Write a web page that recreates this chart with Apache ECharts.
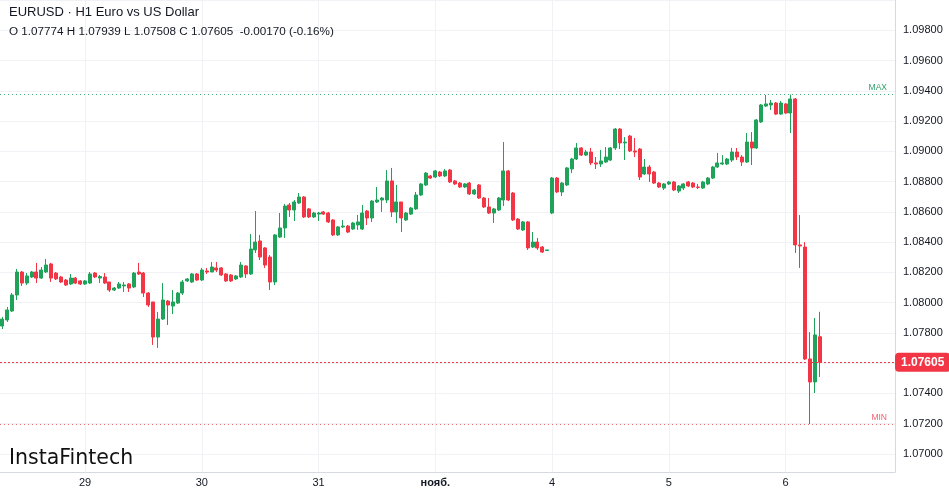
<!DOCTYPE html>
<html>
<head>
<meta charset="utf-8">
<script src="https://cdn.jsdelivr.net/npm/echarts@6/dist/echarts.min.js"></script>
<style>
html,body{margin:0;padding:0;background:#fff;}
#chart{width:949px;height:494px;}
</style>
</head>
<body>
<div id="chart"></div>
<script>
// ---- Data (EURUSD H1) ----
const dayNames = ['28', '29', '30', '31', 'нояб.', '4', '5', '6', '7'];
const firstHour = 7;
const slotCount = 184;

const openP = [
1.07845,1.07885,1.07944,1.08050,1.08202,1.08129,1.08169,1.08202,1.08162,1.08202,
1.08255,1.08195,1.08169,1.08149,1.08123,1.08162,1.08143,1.08123,1.08129,1.08195,
1.08162,1.08169,1.08136,1.08083,1.08096,1.08110,1.08123,1.08103,1.08202,1.08195,
1.08063,1.08004,1.07772,1.07891,1.08010,1.07977,1.07997,1.08063,1.08143,1.08136,
1.08189,1.08149,1.08209,1.08202,1.08229,1.08229,1.08189,1.08182,1.08156,1.08169,
1.08242,1.08189,1.08348,1.08407,1.08361,1.08301,1.08136,1.08433,1.08493,1.08645,
1.08612,1.08658,1.08698,1.08619,1.08566,1.08585,1.08599,1.08592,1.08546,1.08447,
1.08500,1.08506,1.08486,1.08513,1.08486,1.08605,1.08559,1.08665,1.08678,1.08678,
1.08804,1.08599,1.08665,1.08546,1.08585,1.08619,1.08711,1.08777,1.08837,1.08830,
1.08863,1.08837,1.08876,1.08804,1.08790,1.08764,1.08790,1.08718,1.08777,1.08691,
1.08632,1.08592,1.08612,1.08678,1.08870,1.08724,1.08552,1.08480,1.08533,1.08367,
1.08400,1.08367,1.08344,1.08592,1.08823,1.08731,1.08777,1.08883,1.08949,1.09022,
1.08975,1.08995,1.08923,1.08916,1.08929,1.08942,1.09022,1.09147,1.09055,1.09101,
1.09002,1.09015,1.08850,1.08896,1.08863,1.08790,1.08757,1.08784,1.08797,1.08737,
1.08757,1.08797,1.08790,1.08764,1.08757,1.08784,1.08823,1.08896,1.08916,1.08916,
1.08942,1.08995,1.08962,1.08929,1.09061,1.09022,1.09194,1.09299,1.09306,1.09319,
1.09246,1.09313,1.09253,1.09346,1.08381,1.08367,1.07627,1.07475,1.07774
];
const closeP = [
1.07891,1.07951,1.08050,1.08202,1.08129,1.08176,1.08202,1.08162,1.08215,1.08248,
1.08162,1.08156,1.08136,1.08116,1.08162,1.08129,1.08123,1.08143,1.08189,1.08169,
1.08172,1.08129,1.08083,1.08096,1.08123,1.08116,1.08096,1.08195,1.08189,1.08063,
1.07984,1.07772,1.07891,1.08017,1.07984,1.08004,1.08063,1.08136,1.08156,1.08189,
1.08149,1.08215,1.08202,1.08235,1.08215,1.08182,1.08143,1.08143,1.08176,1.08248,
1.08189,1.08354,1.08400,1.08301,1.08248,1.08136,1.08447,1.08493,1.08638,1.08612,
1.08665,1.08698,1.08566,1.08566,1.08592,1.08592,1.08585,1.08533,1.08447,1.08500,
1.08506,1.08466,1.08526,1.08533,1.08592,1.08559,1.08671,1.08678,1.08691,1.08804,
1.08599,1.08665,1.08559,1.08592,1.08625,1.08711,1.08784,1.08856,1.08823,1.08870,
1.08837,1.08870,1.08797,1.08784,1.08764,1.08784,1.08718,1.08744,1.08691,1.08632,
1.08592,1.08619,1.08691,1.08870,1.08678,1.08546,1.08486,1.08533,1.08361,1.08400,
1.08361,1.08334,1.08348,1.08823,1.08731,1.08790,1.08890,1.08949,1.09022,1.08975,
1.08995,1.08923,1.08916,1.08936,1.08962,1.09022,1.09147,1.09055,1.09061,1.09002,
1.08995,1.08830,1.08896,1.08850,1.08790,1.08764,1.08784,1.08797,1.08744,1.08771,
1.08784,1.08771,1.08764,1.08761,1.08797,1.08823,1.08896,1.08923,1.08923,1.08949,
1.08995,1.08962,1.08929,1.09061,1.09022,1.09207,1.09306,1.09313,1.09319,1.09246,
1.09319,1.09253,1.09346,1.08381,1.08374,1.07627,1.07475,1.07786,1.07605
];
const lowP = [
1.07825,1.07872,1.07938,1.08017,1.08110,1.08116,1.08162,1.08129,1.08156,1.08195,
1.08136,1.08149,1.08129,1.08110,1.08116,1.08123,1.08116,1.08116,1.08123,1.08162,
1.08129,1.08123,1.08070,1.08077,1.08090,1.08070,1.08070,1.08096,1.08182,1.08037,
1.07971,1.07720,1.07700,1.07885,1.07852,1.07924,1.07991,1.08050,1.08136,1.08129,
1.08143,1.08143,1.08189,1.08202,1.08202,1.08176,1.08136,1.08136,1.08149,1.08162,
1.08162,1.08182,1.08328,1.08281,1.08229,1.08083,1.08116,1.08427,1.08427,1.08566,
1.08539,1.08652,1.08559,1.08559,1.08559,1.08539,1.08579,1.08526,1.08440,1.08440,
1.08493,1.08460,1.08480,1.08480,1.08480,1.08513,1.08533,1.08658,1.08599,1.08658,
1.08566,1.08526,1.08466,1.08539,1.08579,1.08612,1.08704,1.08771,1.08817,1.08823,
1.08830,1.08830,1.08790,1.08777,1.08757,1.08757,1.08711,1.08711,1.08685,1.08625,
1.08585,1.08526,1.08605,1.08638,1.08671,1.08539,1.08480,1.08473,1.08348,1.08361,
1.08348,1.08328,1.08341,1.08585,1.08724,1.08704,1.08771,1.08856,1.08942,1.08969,
1.08969,1.08909,1.08883,1.08896,1.08923,1.08936,1.09009,1.09015,1.08942,1.08995,
1.08962,1.08810,1.08843,1.08797,1.08784,1.08757,1.08744,1.08777,1.08737,1.08724,
1.08744,1.08764,1.08757,1.08751,1.08751,1.08777,1.08817,1.08890,1.08909,1.08909,
1.08929,1.08942,1.08903,1.08923,1.08909,1.09015,1.09187,1.09293,1.09273,1.09240,
1.09240,1.09246,1.09121,1.08328,1.08229,1.07620,1.07197,1.07402,1.07508
];
const highP = [
1.07905,1.07971,1.08063,1.08222,1.08209,1.08195,1.08209,1.08262,1.08235,1.08288,
1.08262,1.08202,1.08176,1.08156,1.08189,1.08169,1.08149,1.08149,1.08202,1.08202,
1.08182,1.08195,1.08136,1.08103,1.08136,1.08136,1.08129,1.08202,1.08262,1.08202,
1.08070,1.08004,1.07938,1.08129,1.08017,1.08083,1.08070,1.08149,1.08162,1.08195,
1.08195,1.08229,1.08229,1.08268,1.08268,1.08235,1.08195,1.08189,1.08182,1.08268,
1.08248,1.08453,1.08605,1.08447,1.08367,1.08314,1.08453,1.08592,1.08652,1.08658,
1.08678,1.08724,1.08704,1.08625,1.08599,1.08599,1.08605,1.08599,1.08552,1.08506,
1.08546,1.08513,1.08533,1.08579,1.08645,1.08612,1.08678,1.08764,1.08698,1.08876,
1.08890,1.08777,1.08665,1.08599,1.08632,1.08731,1.08790,1.08863,1.08843,1.08876,
1.08870,1.08883,1.08883,1.08810,1.08797,1.08790,1.08797,1.08751,1.08784,1.08698,
1.08691,1.08625,1.08698,1.09061,1.08876,1.08731,1.08559,1.08539,1.08539,1.08466,
1.08427,1.08374,1.08348,1.08830,1.08830,1.08797,1.08896,1.08956,1.09055,1.09028,
1.09009,1.09022,1.08962,1.09009,1.09028,1.09028,1.09154,1.09154,1.09094,1.09108,
1.09088,1.09022,1.08949,1.08909,1.08870,1.08797,1.08790,1.08804,1.08804,1.08777,
1.08790,1.08804,1.08797,1.08784,1.08804,1.08830,1.08903,1.08989,1.08975,1.08956,
1.09022,1.09022,1.08975,1.09121,1.09127,1.09213,1.09313,1.09372,1.09339,1.09326,
1.09332,1.09319,1.09375,1.09352,1.08579,1.08400,1.07805,1.07898,1.07939
];

const headerTitle = 'EURUSD · H1 Euro vs US Dollar';
const headerOHLC = 'O 1.07774 H 1.07939 L 1.07508 C 1.07605  -0.00170 (-0.16%)';
const brand = 'InstaFintech';

// ---- Build ----
const categories = Array.from({length: slotCount}, (_, i) => {
  const t = i + firstHour;
  return dayNames[Math.floor(t / 24)] + ' ' + String(t % 24).padStart(2, '0') + ':00';
});
const isDayStart = (v) => typeof v === 'string' && v.endsWith(' 00:00');
const candles = openP.map((o, i) => [o, closeP[i], lowP[i], highP[i]]);
const lastClose = closeP[closeP.length - 1];

const UP = '#1fa35a', DOWN = '#f23645', TXT = '#131722';
const FONT = 'Liberation Sans, Arial, sans-serif';

const chart = echarts.init(document.getElementById('chart'), null, {renderer: 'canvas'});
chart.setOption({
  animation: false,
  backgroundColor: '#ffffff',
  title: [
    {text: headerTitle, left: 9, top: 6, padding: 0,
     textStyle: {fontSize: 13, fontWeight: 'normal', color: TXT, fontFamily: FONT}},
    {text: headerOHLC, left: 9, top: 26, padding: 0,
     textStyle: {fontSize: 11.7, fontWeight: 'normal', color: TXT, fontFamily: FONT}},
    {text: brand, left: 9, top: 448, padding: 0,
     textStyle: {fontSize: 20.5, fontWeight: 'normal', color: '#111111', fontFamily: 'DejaVu Sans, sans-serif'}}
  ],
  grid: {left: 0, right: 54, top: 0, bottom: 22, containLabel: false},
  xAxis: {
    type: 'category',
    data: categories,
    boundaryGap: true,
    axisLine: {show: true, lineStyle: {color: '#d6d9e0'}},
    axisTick: {show: false},
    axisLabel: {
      interval: (i, v) => isDayStart(v),
      formatter: (v) => {
        const d = v.split(' ')[0];
        return d === 'нояб.' ? '{b|' + d + '}' : d;
      },
      color: TXT, fontSize: 11, margin: 5, fontFamily: FONT,
      rich: {b: {fontWeight: 'bold', fontSize: 11, color: TXT, fontFamily: FONT}}
    },
    splitLine: {show: true, interval: (i, v) => isDayStart(v), alignWithLabel: true,
      lineStyle: {color: '#f0f2f6', width: 1}}
  },
  yAxis: {
    type: 'value',
    position: 'right',
    min: 1.0688,
    max: 1.1,
    splitNumber: 15,
    minInterval: 0.002,
    maxInterval: 0.002,
    scale: true,
    axisLine: {show: true, lineStyle: {color: '#d6d9e0'}},
    axisTick: {show: false},
    axisLabel: {
      showMinLabel: false, showMaxLabel: false,
      formatter: (v) => v.toFixed(5),
      color: TXT, fontSize: 11, margin: 8, fontFamily: FONT
    },
    splitLine: {show: true, lineStyle: {color: '#f0f2f6', width: 1}}
  },
  series: [{
    type: 'candlestick',
    data: candles,
    barWidth: '72%',
    clip: false,
    itemStyle: {color: UP, color0: DOWN, borderColor: UP, borderColor0: DOWN, borderWidth: 1},
    markLine: {
      silent: true,
      precision: 5,
      symbol: ['none', 'none'],
      animation: false,
      data: [
        {type: 'max', valueDim: 'highest',
         lineStyle: {color: '#3fae7a', type: [1, 3], width: 1},
         label: {show: true, position: 'insideEndTop', formatter: 'MAX', color: '#2f9e69', fontSize: 8.5,
                 distance: 2, padding: [0, 6, 0, 0], fontFamily: FONT}},
        {type: 'min', valueDim: 'lowest',
         lineStyle: {color: '#f26b75', type: [1, 3], width: 1},
         label: {show: true, position: 'insideEndTop', formatter: 'MIN', color: '#f06270', fontSize: 8.5,
                 distance: 2, padding: [0, 6, 0, 0], fontFamily: FONT}},
        {yAxis: lastClose,
         lineStyle: {color: DOWN, type: [2, 2], width: 1},
         label: {show: true, position: 'end', distance: 0, formatter: lastClose.toFixed(5),
                 color: '#ffffff', backgroundColor: DOWN, padding: [4, 6, 3, 6], borderRadius: 4,
                 fontSize: 12, fontWeight: 'bold', fontFamily: FONT}}
      ]
    }
  }]
});
</script>
</body>
</html>
